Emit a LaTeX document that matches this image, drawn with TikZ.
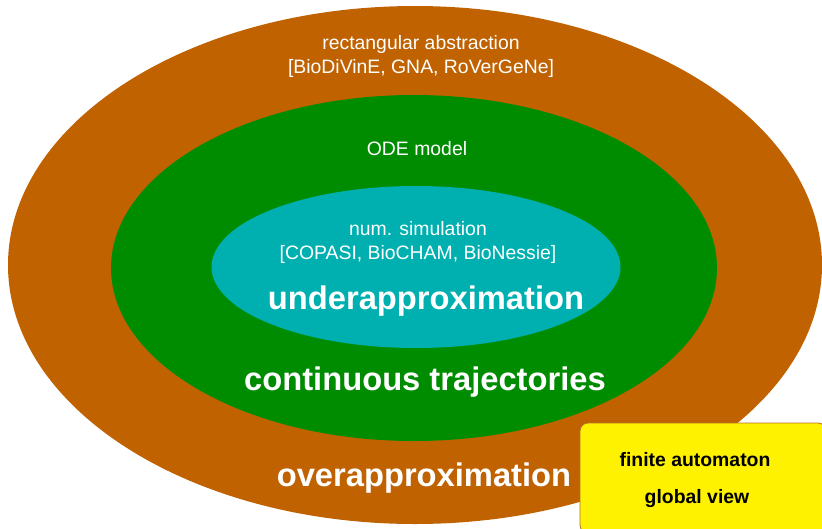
\documentclass[tikz,border=0pt]{standalone}
\usepackage{fontspec}
\setmainfont{Liberation Sans}
\usetikzlibrary{shapes.geometric}
\definecolor{overbrown}{RGB}{192,98,0}
\definecolor{odegreen}{RGB}{0,140,0}
\definecolor{simcyan}{RGB}{0,176,176}
\definecolor{boxedge}{RGB}{180,110,40}
\tikzset{
  region/.style={ellipse, inner sep=0pt, draw=none},
  small/.style={text=white, font=\fontsize{19.4}{23}\selectfont, align=center},
  big/.style={text=white, font=\fontsize{32.7}{38}\selectfont\bfseries},
  boxtext/.style={text=black, font=\fontsize{19.4}{23}\selectfont\bfseries},
}
\begin{document}
\begin{tikzpicture}[x=1pt,y=-1pt]
  \useasboundingbox (0,0) rectangle (822,528);
  % nested regions
  \node[region, fill=overbrown, minimum width=814pt, minimum height=518pt] (over) at (415,265) {};
  \node[region, fill=odegreen, minimum width=606pt, minimum height=346pt] (ode) at (414,268) {};
  \node[region, fill=simcyan, minimum width=409pt, minimum height=162pt] (sim) at (416,267) {};
  % labels
  \node[small] (rect) at (421,56) {rectangular abstraction\\[1pt][BioDiVinE, GNA, RoVerGeNe]};
  \node[small] (odel) at (417,149) {ODE model};
  \node[small] (siml) at (418,242) {num. simulation\\[1pt][COPASI, BioCHAM, BioNessie]};
  \node[big] (under) at (426,301) {underapproximation};
  \node[big] (cont) at (425,382) {continuous trajectories};
  \node[big] (overl) at (424,478) {overapproximation};
  % summary box
  \node[draw=boxedge, line width=0.8pt, fill=yellow, rounded corners=8pt, minimum width=246pt, minimum height=110pt] (fa) at (703,478) {};
  \node[boxtext] (fal) at (695,460) {finite automaton};
  \node[boxtext] (gv) at (697,499) {global view};
\end{tikzpicture}
\end{document}
